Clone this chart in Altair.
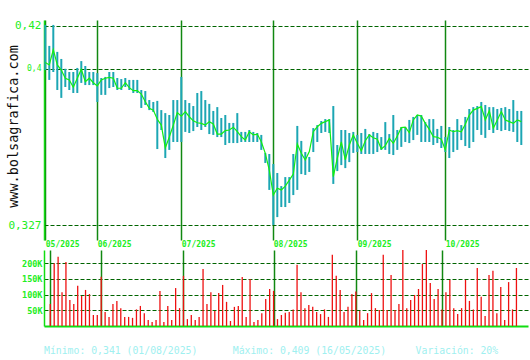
import altair as alt
import pandas as pd

# ---- data ----
month_start = [0, 13, 34, 57, 78, 100]
month_labels = ["05/2025", "06/2025", "07/2025", "08/2025", "09/2025", "10/2025"]

close = [0.4029, 0.4018, 0.4090, 0.4018, 0.3994, 0.3956, 0.3948, 0.3914, 0.3956, 0.3998,
         0.3940, 0.3956, 0.3935, 0.3920, 0.3948, 0.3956, 0.3960, 0.3956, 0.3909, 0.3909,
         0.3935, 0.3912, 0.3898, 0.3898, 0.3882, 0.3846, 0.3815, 0.3807, 0.3764, 0.3737,
         0.3630, 0.3681, 0.3737, 0.3795, 0.3779, 0.3800, 0.3776, 0.3757, 0.3748, 0.3745,
         0.3737, 0.3753, 0.3742, 0.3695, 0.3695, 0.3711, 0.3714, 0.3727, 0.3706, 0.3683,
         0.3667, 0.3706, 0.3691, 0.3695, 0.3659, 0.3605, 0.3527, 0.3410, 0.3442, 0.3434,
         0.3452, 0.3480, 0.3508, 0.3649, 0.3605, 0.3574, 0.3613, 0.3706, 0.3729, 0.3745,
         0.3753, 0.3761, 0.3496, 0.3582, 0.3659, 0.3574, 0.3644, 0.3691, 0.3652, 0.3617,
         0.3664, 0.3691, 0.3678, 0.3671, 0.3625, 0.3641, 0.3675, 0.3652, 0.3686, 0.3725,
         0.3727, 0.3701, 0.3761, 0.3784, 0.3779, 0.3745, 0.3717, 0.3683, 0.3680, 0.3671,
         0.3621, 0.3714, 0.3706, 0.3711, 0.3706, 0.3741, 0.3784, 0.3807, 0.3815, 0.3823,
         0.3761, 0.3804, 0.3722, 0.3761, 0.3800, 0.3761, 0.3753, 0.3745, 0.3761, 0.3753]

high = [0.4205, 0.4107, 0.4205, 0.4079, 0.4046, 0.4000, 0.3985, 0.3985, 0.4004, 0.4036,
        0.4013, 0.3985, 0.3985, 0.3980, 0.3957, 0.3962, 0.3985, 0.3985, 0.3957, 0.3952,
        0.3957, 0.3948, 0.3948, 0.3948, 0.3901, 0.3896, 0.3854, 0.3845, 0.3850, 0.3807,
        0.3793, 0.3784, 0.3854, 0.3854, 0.3962, 0.3854, 0.3840, 0.3826, 0.3887, 0.3896,
        0.3854, 0.3836, 0.3803, 0.3821, 0.3770, 0.3784, 0.3747, 0.3747, 0.3793, 0.3705,
        0.3705, 0.3714, 0.3705, 0.3700, 0.3691, 0.3607, 0.3602, 0.3555, 0.3513, 0.3452,
        0.3494, 0.3494, 0.3602, 0.3733, 0.3663, 0.3611, 0.3588, 0.3723, 0.3737, 0.3756,
        0.3765, 0.3765, 0.3826, 0.3644, 0.3714, 0.3714, 0.3700, 0.3705, 0.3691, 0.3700,
        0.3719, 0.3695, 0.3705, 0.3700, 0.3681, 0.3751, 0.3695, 0.3784, 0.3714, 0.3728,
        0.3728, 0.3761, 0.3775, 0.3784, 0.3784, 0.3751, 0.3765, 0.3765, 0.3719, 0.3733,
        0.3681, 0.3728, 0.3714, 0.3765, 0.3737, 0.3775, 0.3812, 0.3821, 0.3826, 0.3845,
        0.3831, 0.3821, 0.3821, 0.3812, 0.3817, 0.3821, 0.3812, 0.3854, 0.3803, 0.3803]

low = [0.3994, 0.3948, 0.3985, 0.3901, 0.3864, 0.3915, 0.3901, 0.3887, 0.3887, 0.3934,
       0.3924, 0.3924, 0.3924, 0.3845, 0.3878, 0.3878, 0.3910, 0.3915, 0.3901, 0.3901,
       0.3915, 0.3901, 0.3887, 0.3887, 0.3817, 0.3831, 0.3807, 0.3798, 0.3625, 0.3714,
       0.3583, 0.3621, 0.3658, 0.3658, 0.3658, 0.3705, 0.3700, 0.3709, 0.3728, 0.3714,
       0.3728, 0.3695, 0.3691, 0.3681, 0.3681, 0.3644, 0.3653, 0.3653, 0.3653, 0.3658,
       0.3658, 0.3658, 0.3658, 0.3658, 0.3621, 0.3560, 0.3434, 0.3270, 0.3307, 0.3354,
       0.3354, 0.3373, 0.3410, 0.3434, 0.3508, 0.3504, 0.3518, 0.3611, 0.3658, 0.3700,
       0.3705, 0.3700, 0.3462, 0.3522, 0.3550, 0.3536, 0.3564, 0.3607, 0.3611, 0.3602,
       0.3602, 0.3602, 0.3602, 0.3611, 0.3621, 0.3621, 0.3602, 0.3597, 0.3621, 0.3635,
       0.3658, 0.3653, 0.3667, 0.3691, 0.3658, 0.3658, 0.3658, 0.3644, 0.3653, 0.3630,
       0.3611, 0.3583, 0.3611, 0.3621, 0.3667, 0.3639, 0.3630, 0.3658, 0.3714, 0.3691,
       0.3677, 0.3714, 0.3700, 0.3714, 0.3709, 0.3714, 0.3709, 0.3705, 0.3658, 0.3644]

volume_k = [70, 200, 221, 108, 204, 83, 70, 128, 96, 115,
            102, 35, 35, 157, 45, 29, 70, 80, 57, 29,
            29, 26, 53, 64, 41, 19, 13, 19, 112, 13,
            64, 19, 121, 57, 160, 22, 35, 19, 29, 182,
            70, 108, 48, 105, 131, 77, 16, 61, 64, 156,
            29, 150, 13, 19, 41, 86, 118, 112, 22, 35,
            42, 45, 53, 195, 108, 57, 67, 61, 45, 38,
            53, 29, 227, 160, 115, 45, 61, 102, 110, 48,
            19, 41, 105, 57, 51, 227, 51, 163, 51, 70,
            260, 57, 83, 99, 118, 198, 260, 137, 86, 118,
            53, 108, 147, 57, 38, 57, 147, 80, 53, 185,
            93, 32, 163, 176, 41, 124, 19, 140, 53, 185]

price_ticks = [0.42, 0.4, 0.327]
volume_ticks = [50000, 100000, 150000, 200000]
summary = ["Mínimo: 0,341 (01/08/2025)", "Máximo: 0,409 (16/05/2025)", "Variación: 20%"]
watermark = "www.bolsagrafica.com"

df = pd.DataFrame({
    "i": list(range(len(close))),
    "close": close,
    "high": high,
    "low": low,
    "vol": [v * 1000 for v in volume_k],
})

# ---- styles ----
MONO = "DejaVu Sans Mono"
LABEL_GREEN = "#22ee22"
AXIS_GREEN = "#11dd11"
MONTH_GREEN = "#118811"
DASH_GREEN = "#006400"
TEAL = "#1ca6b4"
LINE_GREEN = "#11ee11"
RED = "#ee1111"

month_expr = " : ".join(
    f"datum.value == {m} ? '{l}'" for m, l in zip(month_start, month_labels)
) + " : ''"

x_scale = alt.Scale(domain=[-0.325, 120.675], nice=False, zero=False)

x_price_axis = alt.Axis(
    values=month_start, labelExpr=month_expr, grid=True, gridColor=MONTH_GREEN,
    gridWidth=1.5, ticks=False, domain=False, labelAlign="left",
    labelBaseline="top", labelPadding=0, labelFont=MONO, labelFontSize=8,
    labelFontWeight="bold", labelColor=LABEL_GREEN, labelFlush=False,
    labelOverlap=False, title=None,
)

y_price_axis = alt.Axis(
    values=price_ticks, labelExpr="replace(datum.value + '', '.', ',')",
    grid=True, gridColor=DASH_GREEN, gridDash=[4, 2], gridWidth=1,
    ticks=False, domain=True, domainColor=AXIS_GREEN, domainWidth=1.5,
    labelColor=LABEL_GREEN, labelFont=MONO,
    labelFontSize={"condition": {"test": "datum.value == 0.4", "value": 8}, "value": 11},
    labelPadding=3, labelOverlap=False, labelFlush=False,
    title=watermark, titleAngle=270, titleX=-27, titleY=106, titleAlign="center",
    titleBaseline="alphabetic", titleFont=MONO, titleFontSize=13.5,
    titleFontWeight="normal", titleColor="#111111",
)

y_price_scale = alt.Scale(domain=[0.32, 0.4228], nice=False, zero=False)

base = alt.Chart(df)

hilo = base.mark_rule(color=TEAL, strokeWidth=2).encode(
    x=alt.X("i:Q", scale=x_scale, axis=x_price_axis),
    y=alt.Y("low:Q", scale=y_price_scale, axis=y_price_axis),
    y2="high:Q",
)
close_line = base.mark_line(color=LINE_GREEN, strokeWidth=1.2).encode(
    x=alt.X("i:Q", scale=x_scale, axis=x_price_axis),
    y=alt.Y("close:Q", scale=y_price_scale, axis=y_price_axis),
)
price = alt.layer(hilo, close_line).properties(width=484, height=220)

x_vol_axis = alt.Axis(
    values=month_start, labels=False, ticks=False, domain=True,
    domainColor=AXIS_GREEN, domainWidth=2, grid=True, gridColor=MONTH_GREEN,
    gridWidth=1.5, title=None,
)
y_vol_axis = alt.Axis(
    values=volume_ticks, labelExpr="datum.value / 1000 + 'K'", grid=True,
    gridColor=DASH_GREEN, gridDash=[4, 2], gridWidth=1, ticks=False,
    domain=True, domainColor=AXIS_GREEN, domainWidth=1.5,
    labelColor=LABEL_GREEN, labelFont=MONO, labelFontSize=8.5,
    labelFontWeight="bold", labelPadding=2, labelOverlap=False, title=None,
)

nb = "\u00a0"
summary_text = summary[0] + nb * 6 + summary[1] + nb * 5 + summary[2]

volume = base.mark_bar(color=RED, size=1.3, clip=True).encode(
    x=alt.X("i:Q", scale=x_scale, axis=x_vol_axis),
    y=alt.Y("vol:Q", scale=alt.Scale(domain=[0, 242400], nice=False), axis=y_vol_axis),
).properties(
    width=484, height=76,
    title=alt.TitleParams(
        text=summary_text, orient="bottom", anchor="start", frame="group",
        offset=20, font=MONO, fontSize=9.8, fontWeight="normal", color="#a0f0f0",
    ),
)

chart = alt.vconcat(price, volume, spacing=10, bounds="flush").properties(
    padding={"left": 5, "top": 19, "right": 2, "bottom": 5},
    background="white",
).configure_view(stroke=None)

chart.save("out.html", embed_options={"renderer": "svg", "actions": False})
